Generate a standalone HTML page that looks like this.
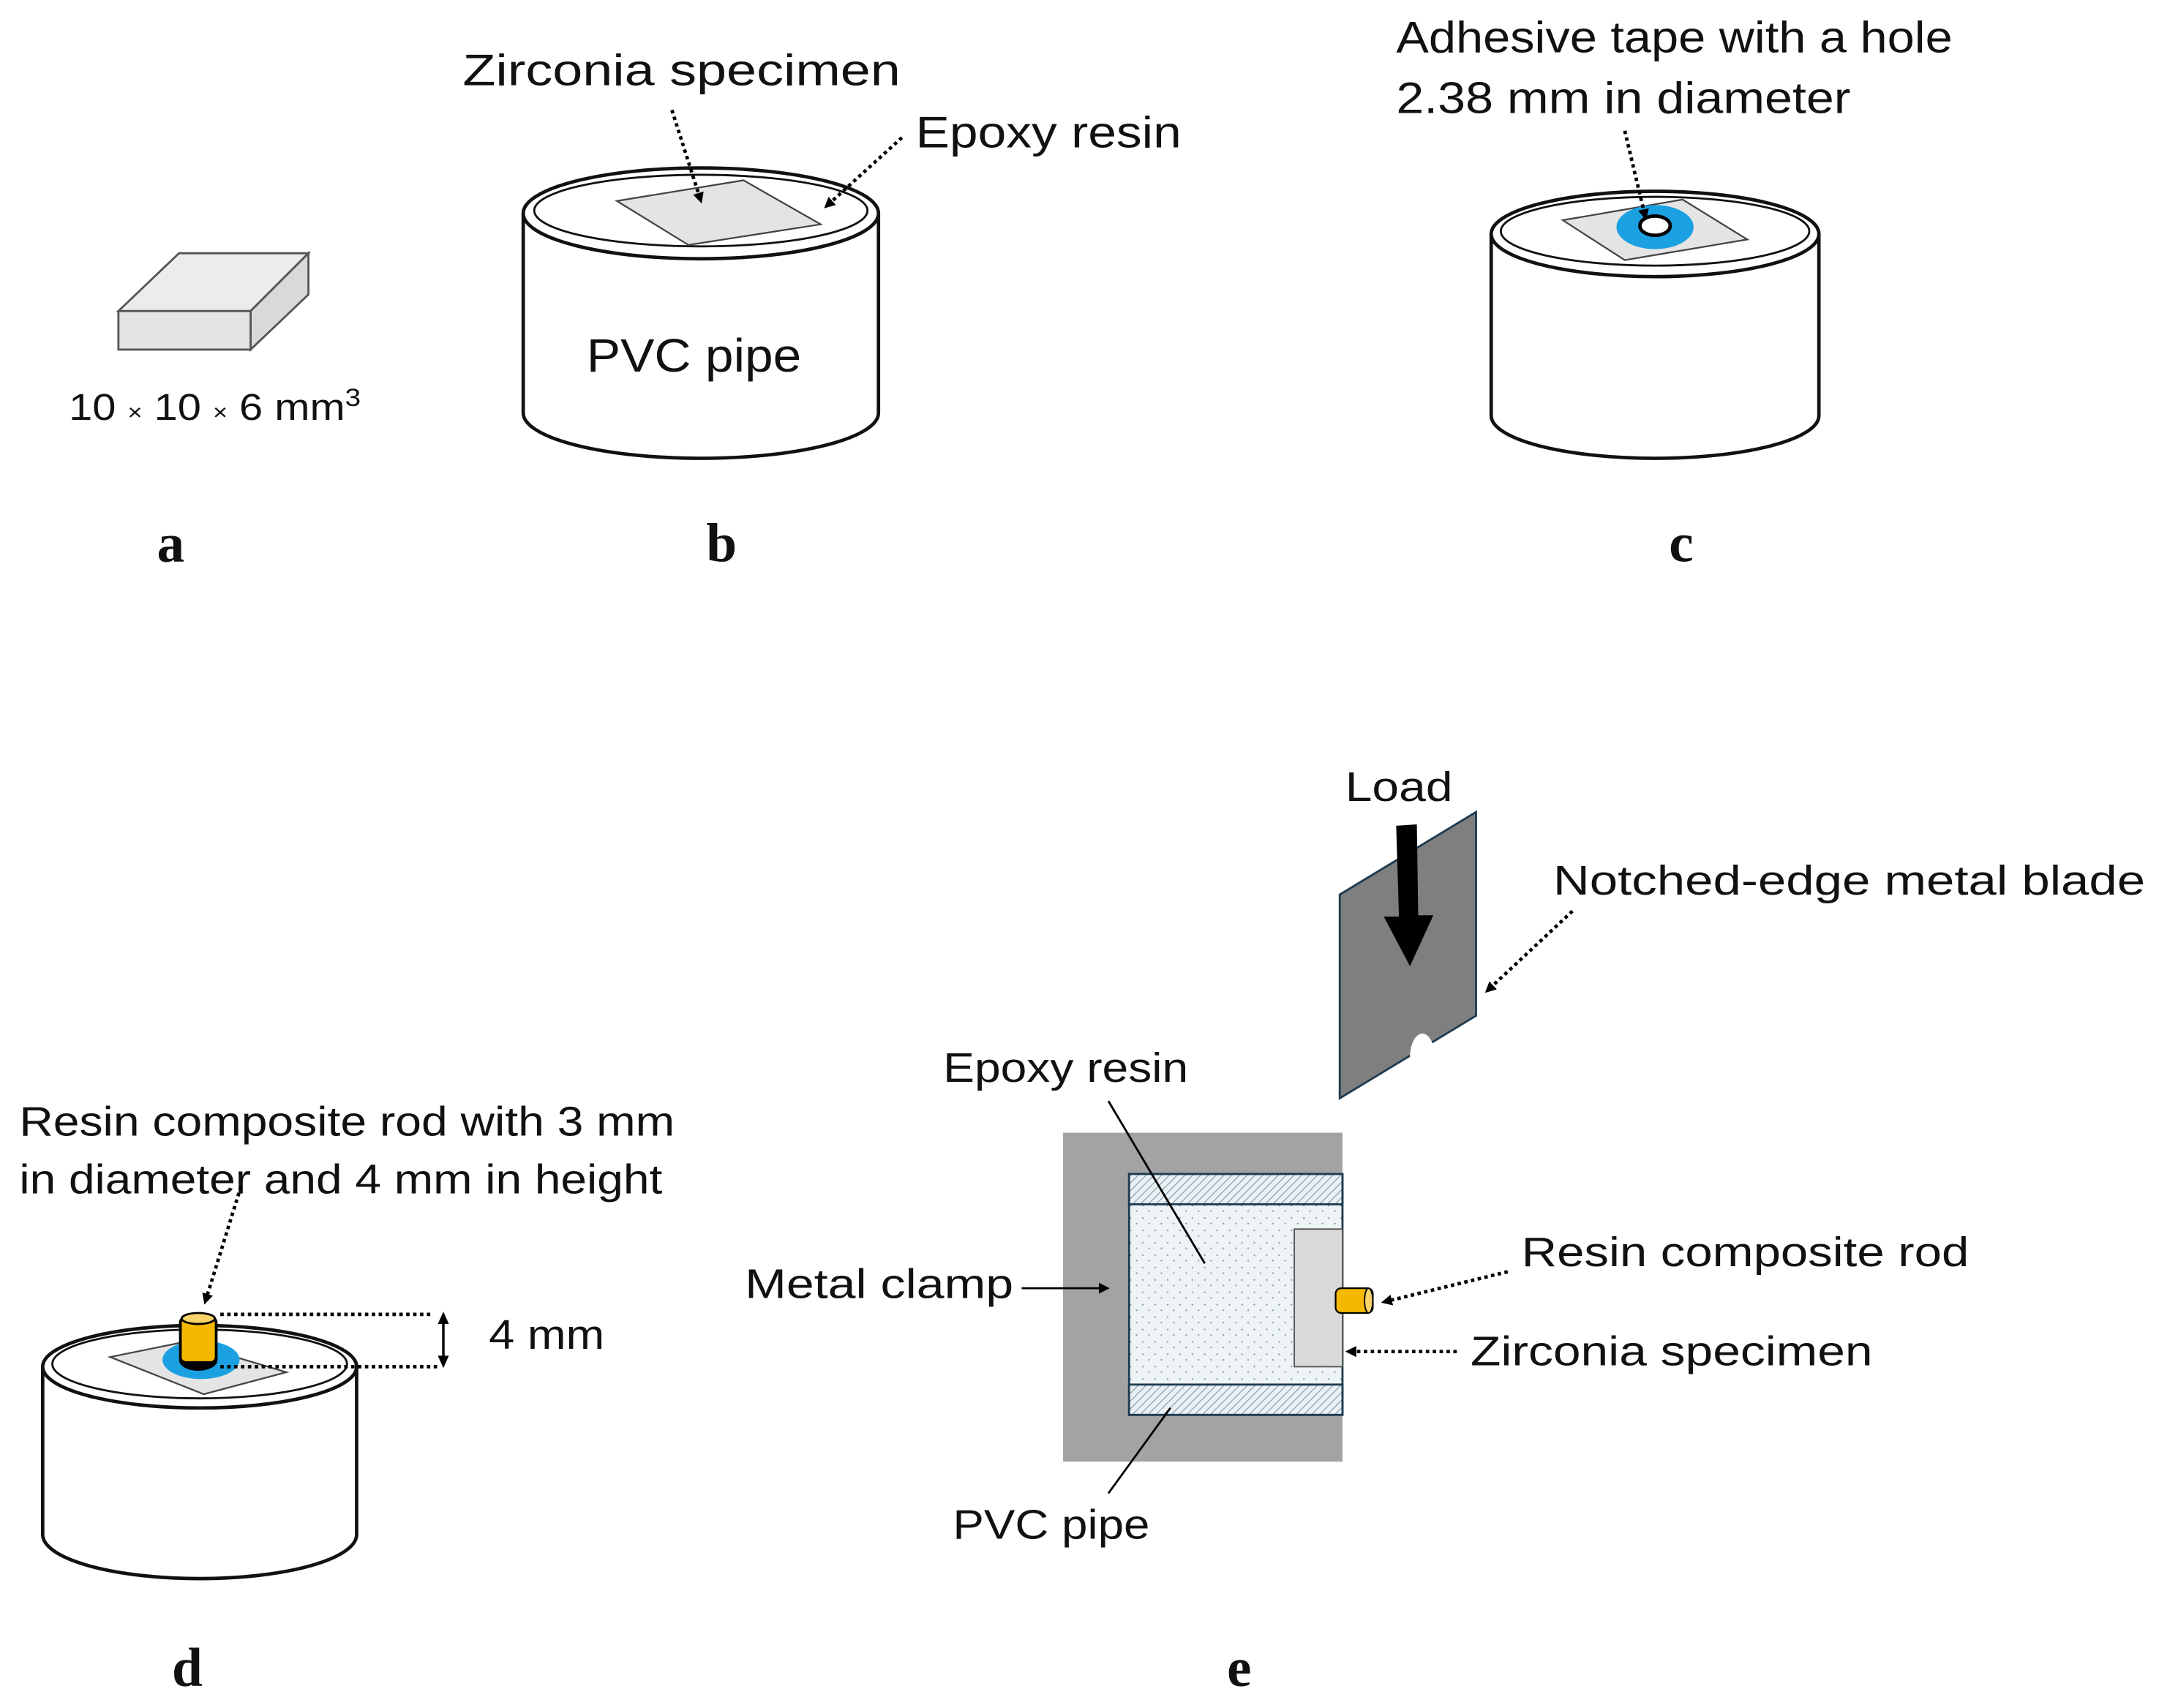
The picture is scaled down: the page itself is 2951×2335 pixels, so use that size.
<!DOCTYPE html>
<html><head><meta charset="utf-8"><style>html,body{margin:0;padding:0;background:#fff}svg{display:block}</style></head>
<body>
<svg width="2951" height="2335" viewBox="0 0 1568 1241" preserveAspectRatio="none" xmlns="http://www.w3.org/2000/svg" font-family="Liberation Sans, sans-serif">
<defs>
<marker id="ah" markerWidth="8" markerHeight="8" refX="6" refY="4" orient="auto" markerUnits="userSpaceOnUse"><path d="M0,0 L8,4 L0,8 z" fill="#000"/></marker>
<pattern id="hatch" width="4" height="4" patternUnits="userSpaceOnUse" patternTransform="rotate(45)"><rect width="4" height="4" fill="#eaf0f3"/><line x1="0" y1="0" x2="0" y2="4" stroke="#7f9aaa" stroke-width="1.2"/></pattern>
<pattern id="dots" width="9" height="9" patternUnits="userSpaceOnUse"><rect width="9" height="9" fill="#eef3f6"/><circle cx="2" cy="3" r="0.6" fill="#7f9aaa"/><circle cx="6.5" cy="7" r="0.6" fill="#7f9aaa"/></pattern>
</defs>
<g font-size="32" fill="#111">
<!-- a -->
<path d="M86,226 L130,184 L224,184 L182,226 Z" fill="#ececec" stroke="#555" stroke-width="1.5"/>
<path d="M182,226 L224,184 L224,214 L182,254 Z" fill="#d9d9d9" stroke="#555" stroke-width="1.5"/>
<rect x="86" y="226" width="96" height="28" fill="#e4e4e4" stroke="#555" stroke-width="1.5"/>
<text x="50" y="305" font-size="27" textLength="212" lengthAdjust="spacingAndGlyphs">10 <tspan font-size="16">×</tspan> 10 <tspan font-size="16">×</tspan> 6 mm<tspan font-size="18" dy="-10">3</tspan></text>
<text x="124" y="408" font-family="Liberation Serif, serif" font-weight="bold" font-size="40" text-anchor="middle">a</text>

<!-- b -->
<path d="M380,155 L380,300 A129,33 0 0 0 638,300 L638,155" fill="#fff" stroke="#111" stroke-width="2.5"/>
<ellipse cx="509" cy="155" rx="129" ry="33" fill="#fff" stroke="#111" stroke-width="2.5"/>
<ellipse cx="509" cy="153" rx="121" ry="26" fill="#fff" stroke="#111" stroke-width="1.5"/>
<path d="M448,146 L540,131 L596,163 L500,178 Z" fill="#e4e4e4" stroke="#444" stroke-width="1.2"/>
<text x="336" y="62" textLength="318" lengthAdjust="spacingAndGlyphs">Zirconia specimen</text>
<text x="665" y="107" textLength="193" lengthAdjust="spacingAndGlyphs">Epoxy resin</text>
<line x1="488" y1="80" x2="509" y2="146" stroke="#000" stroke-width="2.5" stroke-dasharray="2.5,2.5" marker-end="url(#ah)"/>
<line x1="655" y1="100" x2="600" y2="150" stroke="#000" stroke-width="2.5" stroke-dasharray="2.5,2.5" marker-end="url(#ah)"/>
<text x="504" y="270" font-size="34" text-anchor="middle" textLength="156" lengthAdjust="spacingAndGlyphs">PVC pipe</text>
<text x="524" y="408" font-family="Liberation Serif, serif" font-weight="bold" font-size="40" text-anchor="middle">b</text>

<!-- c -->
<path d="M1083,170 L1083,302 A119,31 0 0 0 1321,302 L1321,170" fill="#fff" stroke="#111" stroke-width="2.5"/>
<ellipse cx="1202" cy="170" rx="119" ry="31" fill="#fff" stroke="#111" stroke-width="2.5"/>
<ellipse cx="1202" cy="168" rx="112" ry="25" fill="#fff" stroke="#111" stroke-width="1.5"/>
<path d="M1135,160 L1222,145 L1269,174 L1180,189 Z" fill="#e4e4e4" stroke="#444" stroke-width="1.2"/>
<ellipse cx="1202" cy="165" rx="28" ry="16" fill="#1ba1e2"/>
<ellipse cx="1202" cy="164" rx="11" ry="7" fill="#fff" stroke="#000" stroke-width="2.5"/>
<text x="1014" y="38" textLength="404" lengthAdjust="spacingAndGlyphs">Adhesive tape with a hole</text>
<text x="1014" y="82" textLength="330" lengthAdjust="spacingAndGlyphs">2.38 mm in diameter</text>
<line x1="1180" y1="95" x2="1195" y2="158" stroke="#000" stroke-width="2.5" stroke-dasharray="2.5,2.5" marker-end="url(#ah)"/>
<text x="1221" y="408" font-family="Liberation Serif, serif" font-weight="bold" font-size="40" text-anchor="middle">c</text>

<!-- d -->
<path d="M31,993 L31,1115 A114,32 0 0 0 259,1115 L259,993" fill="#fff" stroke="#111" stroke-width="2.5"/>
<ellipse cx="145" cy="993" rx="114" ry="30" fill="#fff" stroke="#111" stroke-width="2.5"/>
<ellipse cx="145" cy="991" rx="107" ry="25" fill="#fff" stroke="#111" stroke-width="1.5"/>
<path d="M80,986 L134,975 L208,997 L148,1013 Z" fill="#e4e4e4" stroke="#444" stroke-width="1.2"/>
<ellipse cx="146" cy="988" rx="28" ry="14" fill="#1ba1e2"/>
<ellipse cx="144" cy="988" rx="14" ry="8" fill="#000"/>
<rect x="131" y="957" width="26" height="33" rx="4" fill="#f5b800" stroke="#000" stroke-width="2"/>
<ellipse cx="144" cy="958" rx="12" ry="4" fill="#f9d46a" stroke="#000" stroke-width="1.5"/>
<line x1="160" y1="955" x2="315" y2="955" stroke="#000" stroke-width="2.5" stroke-dasharray="2.5,2.5"/>
<line x1="160" y1="993" x2="318" y2="993" stroke="#000" stroke-width="2.5" stroke-dasharray="2.5,2.5"/>
<line x1="322" y1="960" x2="322" y2="988" stroke="#000" stroke-width="1.8"/>
<path d="M318,962 L322,953 L326,962 Z M318,985 L322,994 L326,985 Z" fill="#000"/>
<text x="355" y="980" font-size="30" textLength="84" lengthAdjust="spacingAndGlyphs">4 mm</text>
<text x="14" y="825" font-size="30" textLength="476" lengthAdjust="spacingAndGlyphs">Resin composite rod with 3 mm</text>
<text x="14" y="867" font-size="30" textLength="467" lengthAdjust="spacingAndGlyphs">in diameter and 4 mm in height</text>
<line x1="175" y1="862" x2="149" y2="946" stroke="#000" stroke-width="2.5" stroke-dasharray="2.5,2.5" marker-end="url(#ah)"/>
<text x="136" y="1225" font-family="Liberation Serif, serif" font-weight="bold" font-size="40" text-anchor="middle">d</text>

<!-- e -->
<rect x="772" y="823" width="203" height="239" fill="#a3a3a3"/>
<rect x="820" y="853" width="155" height="175" fill="url(#dots)" stroke="#1f3b50" stroke-width="1.5"/>
<rect x="820" y="853" width="155" height="22" fill="url(#hatch)" stroke="#1f3b50" stroke-width="1.5"/>
<rect x="820" y="1006" width="155" height="22" fill="url(#hatch)" stroke="#1f3b50" stroke-width="1.5"/>
<rect x="940" y="893" width="35" height="100" fill="#d9d9d9" stroke="#555" stroke-width="1"/>
<rect x="970" y="936" width="27" height="18" rx="4" fill="#f5b800" stroke="#000" stroke-width="1.2"/>
<ellipse cx="994" cy="945" rx="3" ry="9" fill="#f9d46a" stroke="#000" stroke-width="1"/>
<path d="M973,650 L1072,590 L1072,738 L973,798 Z" fill="#7f7f7f" stroke="#1f3b50" stroke-width="1.5"/>
<ellipse cx="1033" cy="768" rx="9" ry="17" fill="#fff"/>
<path d="M1014,600 L1029,599 L1030,665 L1041,665 L1024,702 L1005,666 L1016,666 Z" fill="#000"/>
<text x="977" y="582" font-size="30" textLength="78" lengthAdjust="spacingAndGlyphs">Load</text>
<text x="1128" y="650" font-size="30" textLength="430" lengthAdjust="spacingAndGlyphs">Notched-edge metal  blade</text>
<line x1="1142" y1="662" x2="1080" y2="720" stroke="#000" stroke-width="2.5" stroke-dasharray="2.5,2.5" marker-end="url(#ah)"/>
<text x="685" y="786" font-size="30" textLength="178" lengthAdjust="spacingAndGlyphs">Epoxy resin</text>
<line x1="805" y1="800" x2="875" y2="918" stroke="#000" stroke-width="1.5"/>
<text x="541" y="943" font-size="30" textLength="195" lengthAdjust="spacingAndGlyphs">Metal clamp</text>
<line x1="742" y1="936" x2="804" y2="936" stroke="#000" stroke-width="1.5" marker-end="url(#ah)"/>
<text x="692" y="1118" font-size="30" textLength="143" lengthAdjust="spacingAndGlyphs">PVC pipe</text>
<line x1="805" y1="1085" x2="850" y2="1023" stroke="#000" stroke-width="1.5"/>
<text x="1105" y="920" font-size="30" textLength="325" lengthAdjust="spacingAndGlyphs">Resin composite rod</text>
<line x1="1095" y1="924" x2="1005" y2="946" stroke="#000" stroke-width="2.5" stroke-dasharray="2.5,2.5" marker-end="url(#ah)"/>
<text x="1068" y="992" font-size="30" textLength="292" lengthAdjust="spacingAndGlyphs">Zirconia specimen</text>
<line x1="1058" y1="982" x2="979" y2="982" stroke="#000" stroke-width="2.5" stroke-dasharray="2.5,2.5" marker-end="url(#ah)"/>
<text x="900" y="1225" font-family="Liberation Serif, serif" font-weight="bold" font-size="40" text-anchor="middle">e</text>
</g>
</svg>
</body></html>
